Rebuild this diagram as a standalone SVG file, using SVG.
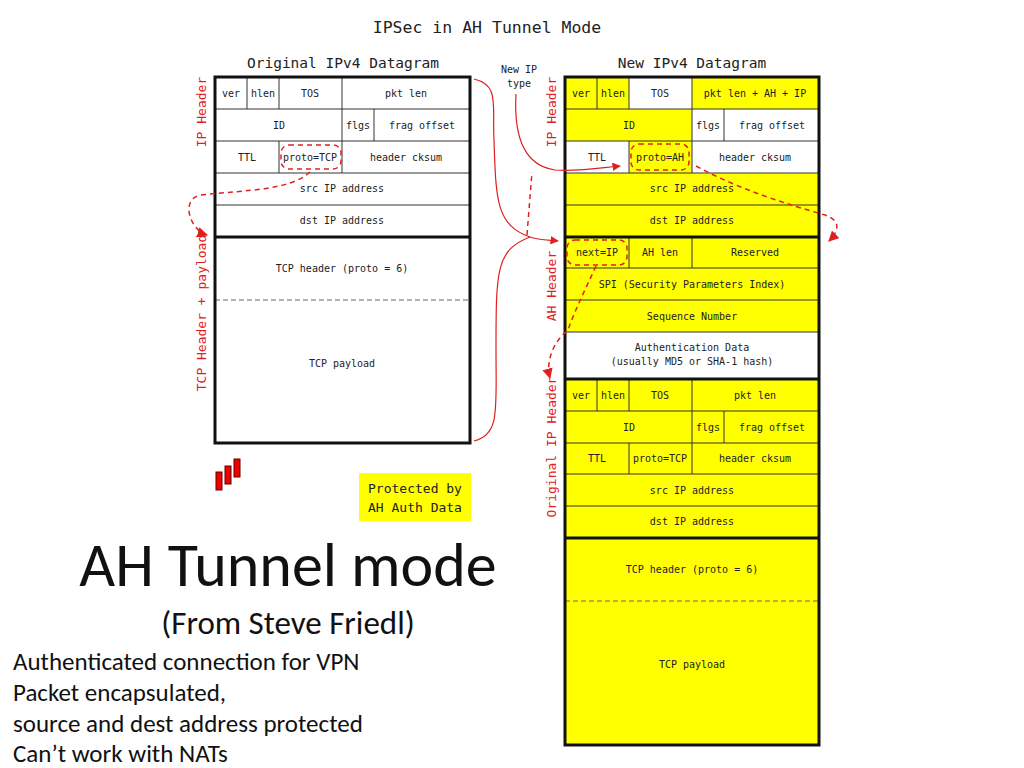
<svg xmlns="http://www.w3.org/2000/svg" width="1024" height="768" viewBox="0 0 1024 768">
<style>
.m{font-family:"DejaVu Sans Mono",monospace;font-size:10px;fill:#222;text-anchor:middle}
.t{font-family:"DejaVu Sans Mono",monospace;font-size:16.5px;fill:#222;text-anchor:middle}
.h{font-family:"DejaVu Sans Mono",monospace;font-size:14.5px;fill:#222;text-anchor:middle}
.r{font-family:"DejaVu Sans Mono",monospace;font-size:13px;fill:#e02020;text-anchor:middle}
.c{stroke:#333;stroke-width:1;fill:none}
.b{stroke:#111;stroke-width:3;fill:none}
.y{fill:#ffff00}
.w{fill:#fff}
.a{stroke:#e02020;stroke-width:1.2;fill:none}
.d{stroke:#e02020;stroke-width:1.5;fill:none;stroke-dasharray:5,4}
.s{font-family:Carlito,"Liberation Sans",sans-serif;fill:#111}
</style>
<defs><marker id="ar" viewBox="0 0 10 10" refX="9" refY="5" markerWidth="7" markerHeight="7" orient="auto"><path d="M0,0L10,5L0,10z" fill="#e02020"/></marker></defs>
<rect width="1024" height="768" fill="#fff"/>
<text x="487" y="33" class="t">IPSec in AH Tunnel Mode</text>
<text x="343" y="68" class="h">Original IPv4 Datagram</text>
<text x="692" y="68" class="h">New IPv4 Datagram</text>
<text x="519" y="73" class="m">New IP</text>
<text x="519" y="87" class="m">type</text>
<g id="orig">
<rect x="215" y="77" width="255" height="366" class="w"/>
<path class="c" d="M215,109H470M215,141H470M215,173H470M215,205H470M247,77V109M279,77V109M342,77V173M374,109V141M279,141V173"/>
<path d="M215,300H470" stroke="#666" stroke-dasharray="5,3"/>
<path class="b" d="M215,237H470"/>
<rect x="215" y="77" width="255" height="366" class="b"/>
<text x="231" y="97" class="m">ver</text><text x="263" y="97" class="m">hlen</text><text x="310" y="97" class="m">TOS</text><text x="406" y="97" class="m">pkt len</text>
<text x="279" y="129" class="m">ID</text><text x="358" y="129" class="m">flgs</text><text x="422" y="129" class="m">frag offset</text>
<text x="247" y="161" class="m">TTL</text><text x="310" y="161" class="m">proto=TCP</text><text x="406" y="161" class="m">header cksum</text>
<text x="342" y="192" class="m">src IP address</text>
<text x="342" y="224" class="m">dst IP address</text>
<text x="342" y="272" class="m">TCP header (proto = 6)</text>
<text x="342" y="367" class="m">TCP payload</text>
<rect x="281" y="145" width="60" height="24" rx="8" class="d"/>
</g>
<g id="new">
<rect x="565" y="77" width="254" height="668" class="y"/>
<rect x="629" y="77" width="63" height="32" class="w"/>
<rect x="692" y="109" width="127" height="32" class="w"/>
<rect x="565" y="141" width="64" height="32" class="w"/>
<rect x="692" y="141" width="127" height="32" class="w"/>
<rect x="565" y="332" width="254" height="47" class="w"/>
<path class="c" d="M565,109H819M565,141H819M565,173H819M565,205H819M565,268H819M565,300H819M565,332H819M565,411H819M565,443H819M565,474H819M565,506H819M597,77V109M629,77V109M692,77V173M724,109V141M629,141V173M629,237V268M692,237V268M597,379V411M629,379V411M692,379V474M724,411V443M629,443V474"/>
<path d="M565,601H819" stroke="#666" stroke-dasharray="5,3"/>
<path class="b" d="M565,237H819M565,379H819M565,538H819"/>
<rect x="565" y="77" width="254" height="668" class="b"/>
<text x="581" y="97" class="m">ver</text><text x="613" y="97" class="m">hlen</text><text x="660" y="97" class="m">TOS</text><text x="755" y="97" class="m">pkt len + AH + IP</text>
<text x="629" y="129" class="m">ID</text><text x="708" y="129" class="m">flgs</text><text x="772" y="129" class="m">frag offset</text>
<text x="597" y="161" class="m">TTL</text><text x="660" y="161" class="m">proto=AH</text><text x="755" y="161" class="m">header cksum</text>
<text x="692" y="192" class="m">src IP address</text>
<text x="692" y="224" class="m">dst IP address</text>
<text x="597" y="256" class="m">next=IP</text><text x="660" y="256" class="m">AH len</text><text x="755" y="256" class="m">Reserved</text>
<text x="692" y="288" class="m">SPI (Security Parameters Index)</text>
<text x="692" y="320" class="m">Sequence Number</text>
<text x="692" y="351" class="m">Authentication Data</text>
<text x="692" y="365" class="m">(usually MD5 or SHA-1 hash)</text>
<text x="581" y="399" class="m">ver</text><text x="613" y="399" class="m">hlen</text><text x="660" y="399" class="m">TOS</text><text x="755" y="399" class="m">pkt len</text>
<text x="629" y="431" class="m">ID</text><text x="708" y="431" class="m">flgs</text><text x="772" y="431" class="m">frag offset</text>
<text x="597" y="462" class="m">TTL</text><text x="660" y="462" class="m">proto=TCP</text><text x="755" y="462" class="m">header cksum</text>
<text x="692" y="494" class="m">src IP address</text>
<text x="692" y="525" class="m">dst IP address</text>
<text x="692" y="573" class="m">TCP header (proto = 6)</text>
<text x="692" y="668" class="m">TCP payload</text>
<rect x="631" y="144" width="58" height="26" rx="8" class="d"/>
<rect x="567" y="240" width="60" height="25" rx="8" class="d"/>
</g>
<g id="labels">
<text class="r" transform="translate(206,112) rotate(-90)">IP Header</text>
<text class="r" transform="translate(206,313) rotate(-90)">TCP Header + payload</text>
<text class="r" transform="translate(556,112) rotate(-90)">IP Header</text>
<text class="r" transform="translate(556,286) rotate(-90)">AH Header</text>
<text class="r" transform="translate(556,447) rotate(-90)">Original IP Header</text>
</g>
<g id="connectors">
<path class="a" d="M474,79C500,85 492,105 494,140C496,200 496,225 530,237C538,240 548,240 558,241" marker-end="url(#ar)"/>
<path class="a" d="M474,441C500,435 496,410 496,350C496,270 496,250 530,237"/>
<path class="a" d="M516,94C514,130 520,165 555,170C575,172 600,168 620,166" marker-end="url(#ar)"/>
<path class="d" d="M527,235L532,172"/>
<path class="d" d="M310,172C290,190 250,190 200,195C180,200 190,230 207,235" marker-end="url(#ar)"/>
<path class="d" d="M696,166C740,190 790,205 825,215C845,222 835,235 829,241" marker-end="url(#ar)"/>
<path class="d" d="M596,266C585,290 575,310 568,330C555,340 545,360 550,378" marker-end="url(#ar)"/>
</g>
<g id="legend">
<rect x="216" y="472" width="6" height="18" fill="#e00" stroke="#600"/>
<rect x="225" y="466" width="6" height="18" fill="#e00" stroke="#600"/>
<rect x="234" y="459" width="6" height="18" fill="#e00" stroke="#600"/>
<rect x="359" y="473" width="112" height="48" class="y"/>
<text x="415" y="493" class="m" style="font-size:13px">Protected by</text>
<text x="415" y="512" class="m" style="font-size:13px">AH Auth Data</text>
</g>
<text x="288" y="586" class="s" style="font-size:62px" text-anchor="middle">AH Tunnel mode</text>
<text x="288" y="634" class="s" style="font-size:33px" text-anchor="middle">(From Steve Friedl)</text>
<text class="s" style="font-size:25px"><tspan x="13" y="670">Authenticated connection for VPN</tspan><tspan x="13" y="701">Packet encapsulated,</tspan><tspan x="13" y="732">source and dest address protected</tspan><tspan x="13" y="762">Can’t work with NATs</tspan></text>
</svg>
